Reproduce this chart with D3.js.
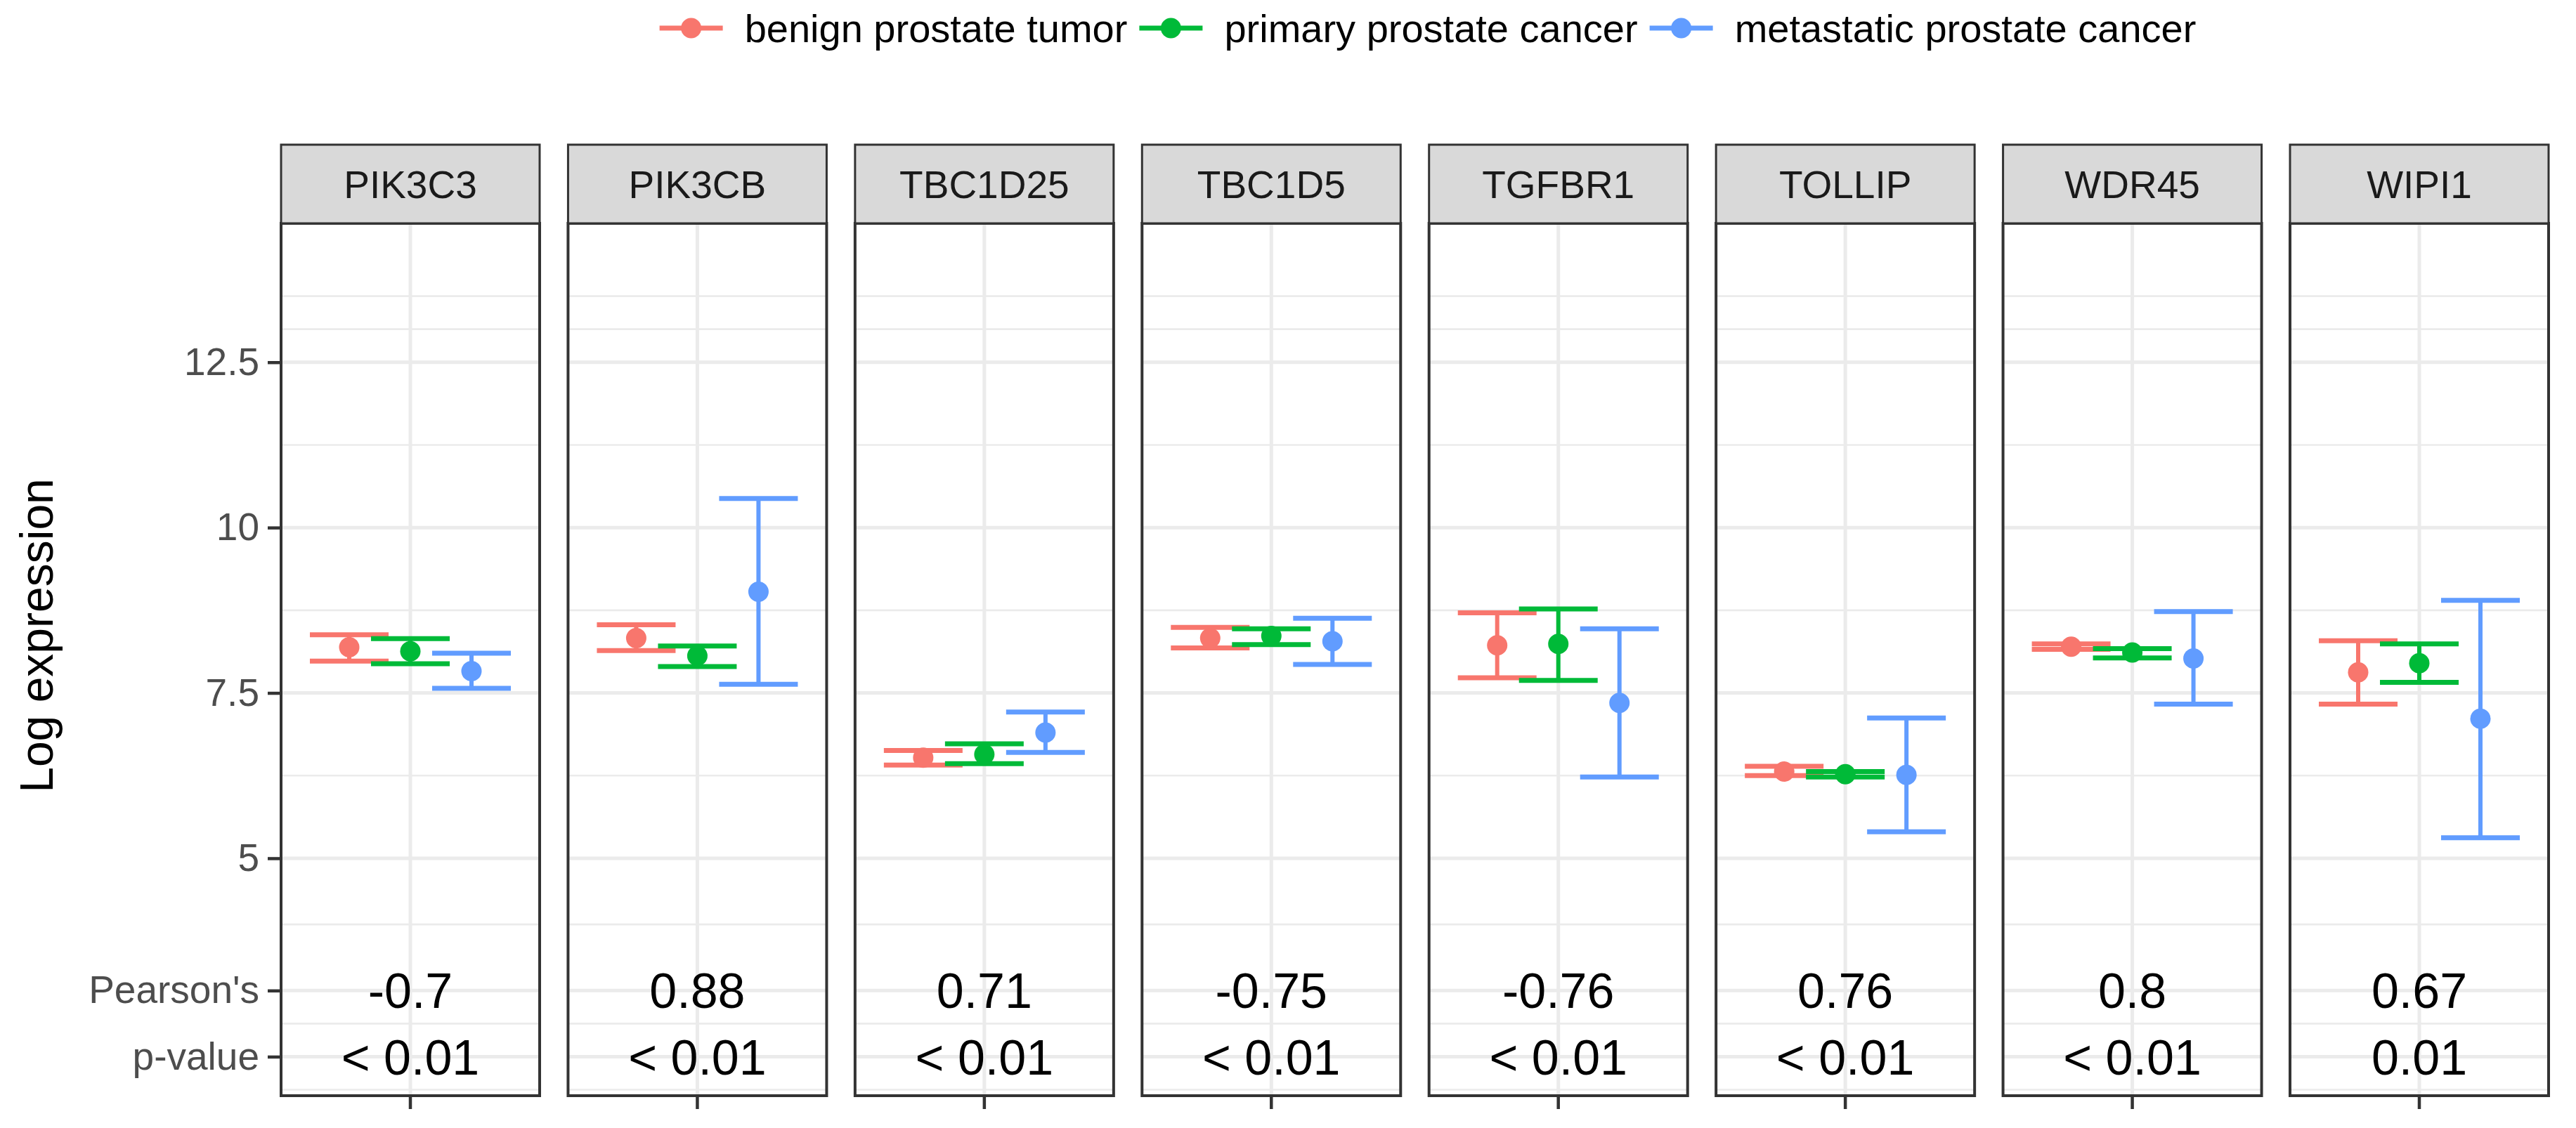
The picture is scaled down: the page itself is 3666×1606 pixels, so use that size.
<!DOCTYPE html>
<html>
<head>
<meta charset="utf-8">
<script src="https://d3js.org/d3.v7.min.js"></script>
<style>
body { margin: 0; background: #fff; }
text { font-family: "Liberation Sans", Arial, Helvetica, sans-serif; }
</style>
</head>
<body>
<script>
var genes = ["PIK3C3", "PIK3CB", "TBC1D25", "TBC1D5", "TGFBR1", "TOLLIP", "WDR45", "WIPI1"];
var groups = ["benign prostate tumor", "primary prostate cancer", "metastatic prostate cancer"];
var colors = ["#F8766D", "#00BA38", "#619CFF"];

// per gene: [benign, primary, metastatic]
var means = [
    [8.19, 8.13, 7.83],
    [8.33, 8.06, 9.03],
    [6.52, 6.57, 6.90],
    [8.33, 8.36, 8.28],
    [8.22, 8.24, 7.35],
    [6.31, 6.27, 6.26],
    [8.20, 8.11, 8.02],
    [7.81, 7.95, 7.11]
];
var lower = [
    [7.98, 7.94, 7.57],
    [8.14, 7.90, 7.63],
    [6.41, 6.43, 6.60],
    [8.18, 8.23, 7.93],
    [7.73, 7.69, 6.23],
    [6.25, 6.23, 5.40],
    [8.16, 8.03, 7.33],
    [7.33, 7.66, 5.31]
];
var upper = [
    [8.38, 8.32, 8.10],
    [8.53, 8.21, 10.44],
    [6.63, 6.73, 7.21],
    [8.49, 8.47, 8.63],
    [8.71, 8.77, 8.47],
    [6.39, 6.31, 7.12],
    [8.24, 8.17, 8.73],
    [8.29, 8.24, 8.90]
];
var pearson = ["-0.7", "0.88", "0.71", "-0.75", "-0.76", "0.76", "0.8", "0.67"];
var pvalue = ["< 0.01", "< 0.01", "< 0.01", "< 0.01", "< 0.01", "< 0.01", "< 0.01", "0.01"];

var yTicks = [2, 3, 5, 7.5, 10, 12.5];
var yTickLabels = ["p-value", "Pearson's", "5", "7.5", "10", "12.5"];
var yMinor = [1.5, 2.5, 4, 6.25, 8.75, 11.25, 13, 13.5];
var pearsonRow = 3, pvalueRow = 2;

var width = 3666, height = 1606;
var panelTop = 318, panelBottom = 1560, stripTop = 206;

var svg = d3.select("body").append("svg")
    .attr("width", width).attr("height", height);

var x = d3.scaleBand().domain(genes).range([400, 3627]).paddingInner(0.099).paddingOuter(0);
var y = d3.scaleLinear().domain([1.41, 14.6]).range([panelBottom, panelTop]);
var dodge = 87, capHalf = 56;
var inner = d3.scalePoint().domain(groups).range([-dodge, dodge]);

genes.forEach(function (g, gi) {
    var left = x(g), w = x.bandwidth(), cx = left + w / 2;
    var panel = svg.append("g");
    panel.append("rect").attr("x", left).attr("y", panelTop).attr("width", w)
        .attr("height", panelBottom - panelTop).attr("fill", "#fff");
    yMinor.forEach(function (v) {
        panel.append("line").attr("x1", left).attr("x2", left + w)
            .attr("y1", y(v)).attr("y2", y(v))
            .attr("stroke", "#EBEBEB").attr("stroke-width", 2.6);
    });
    yTicks.forEach(function (v) {
        panel.append("line").attr("x1", left).attr("x2", left + w)
            .attr("y1", y(v)).attr("y2", y(v))
            .attr("stroke", "#EBEBEB").attr("stroke-width", 5);
    });
    panel.append("line").attr("x1", cx).attr("x2", cx)
        .attr("y1", panelTop).attr("y2", panelBottom)
        .attr("stroke", "#EBEBEB").attr("stroke-width", 5);

    groups.forEach(function (grp, k) {
        var px = cx + inner(grp), col = colors[k];
        panel.append("line").attr("x1", px).attr("x2", px)
            .attr("y1", y(lower[gi][k])).attr("y2", y(upper[gi][k]))
            .attr("stroke", col).attr("stroke-width", 6);
        [lower[gi][k], upper[gi][k]].forEach(function (v) {
            panel.append("line").attr("x1", px - capHalf).attr("x2", px + capHalf)
                .attr("y1", y(v)).attr("y2", y(v))
                .attr("stroke", col).attr("stroke-width", 7);
        });
    });
    groups.forEach(function (grp, k) {
        panel.append("circle").attr("cx", cx + inner(grp)).attr("cy", y(means[gi][k]))
            .attr("r", 14.5).attr("fill", colors[k]);
    });

    panel.append("text").attr("x", cx).attr("y", y(pearsonRow)).attr("dy", "0.36em")
        .attr("text-anchor", "middle").attr("font-size", 70).attr("fill", "#000")
        .text(pearson[gi]);
    panel.append("text").attr("x", cx).attr("y", y(pvalueRow)).attr("dy", "0.36em")
        .attr("text-anchor", "middle").attr("font-size", 70).attr("fill", "#000")
        .text(pvalue[gi]);

    panel.append("rect").attr("x", left).attr("y", panelTop).attr("width", w)
        .attr("height", panelBottom - panelTop)
        .attr("fill", "none").attr("stroke", "#333333").attr("stroke-width", 4);

    panel.append("rect").attr("x", left).attr("y", stripTop).attr("width", w)
        .attr("height", panelTop - stripTop)
        .attr("fill", "#D9D9D9").attr("stroke", "#333333").attr("stroke-width", 3);
    panel.append("text").attr("x", cx).attr("y", (stripTop + panelTop) / 2).attr("dy", "0.36em")
        .attr("text-anchor", "middle").attr("font-size", 55).attr("fill", "#1A1A1A")
        .text(g);

    panel.append("line").attr("x1", cx).attr("x2", cx)
        .attr("y1", panelBottom).attr("y2", panelBottom + 19)
        .attr("stroke", "#333333").attr("stroke-width", 4.5);
});

var yAxis = d3.axisLeft(y).tickValues(yTicks).tickSize(17).tickPadding(12)
    .tickFormat(function (d, i) { return yTickLabels[i]; });
var ga = svg.append("g").attr("transform", "translate(398,0)").call(yAxis);
ga.select(".domain").remove();
ga.selectAll(".tick line").attr("stroke", "#333333").attr("stroke-width", 4.5);
ga.selectAll(".tick text").attr("font-size", 55).attr("fill", "#4D4D4D")
    .attr("font-family", "'Liberation Sans', Arial, sans-serif");

svg.append("text")
    .attr("transform", "translate(51,905) rotate(-90)")
    .attr("dy", "0.36em")
    .attr("text-anchor", "middle").attr("font-size", 66).attr("fill", "#000")
    .text("Log expression");

// legend
var legend = svg.append("g");
var legFont = 56, keyHalf = 45, textGap = 76, itemGap = 62;
var items = legend.selectAll("g").data(groups).enter().append("g");
items.append("text").attr("font-size", legFont).attr("fill", "#000")
    .attr("y", 40).attr("dy", "0.36em").text(function (d) { return d; });
var widths = [];
items.select("text").each(function () { widths.push(this.getComputedTextLength()); });
var total = 0;
widths.forEach(function (wd, i) {
    total += 2 * keyHalf + (textGap - keyHalf) + wd + (i < widths.length - 1 ? itemGap - keyHalf : 0);
});
var pos = 2032 - total / 2 + keyHalf;
items.each(function (d, i) {
    var item = d3.select(this);
    item.insert("line", "text").attr("x1", pos - keyHalf).attr("x2", pos + keyHalf)
        .attr("y1", 40).attr("y2", 40)
        .attr("stroke", colors[i]).attr("stroke-width", 7);
    item.insert("circle", "text").attr("cx", pos).attr("cy", 40).attr("r", 14.5).attr("fill", colors[i]);
    item.select("text").attr("x", pos + textGap);
    pos += textGap + widths[i] + itemGap;
});
</script>
</body>
</html>
